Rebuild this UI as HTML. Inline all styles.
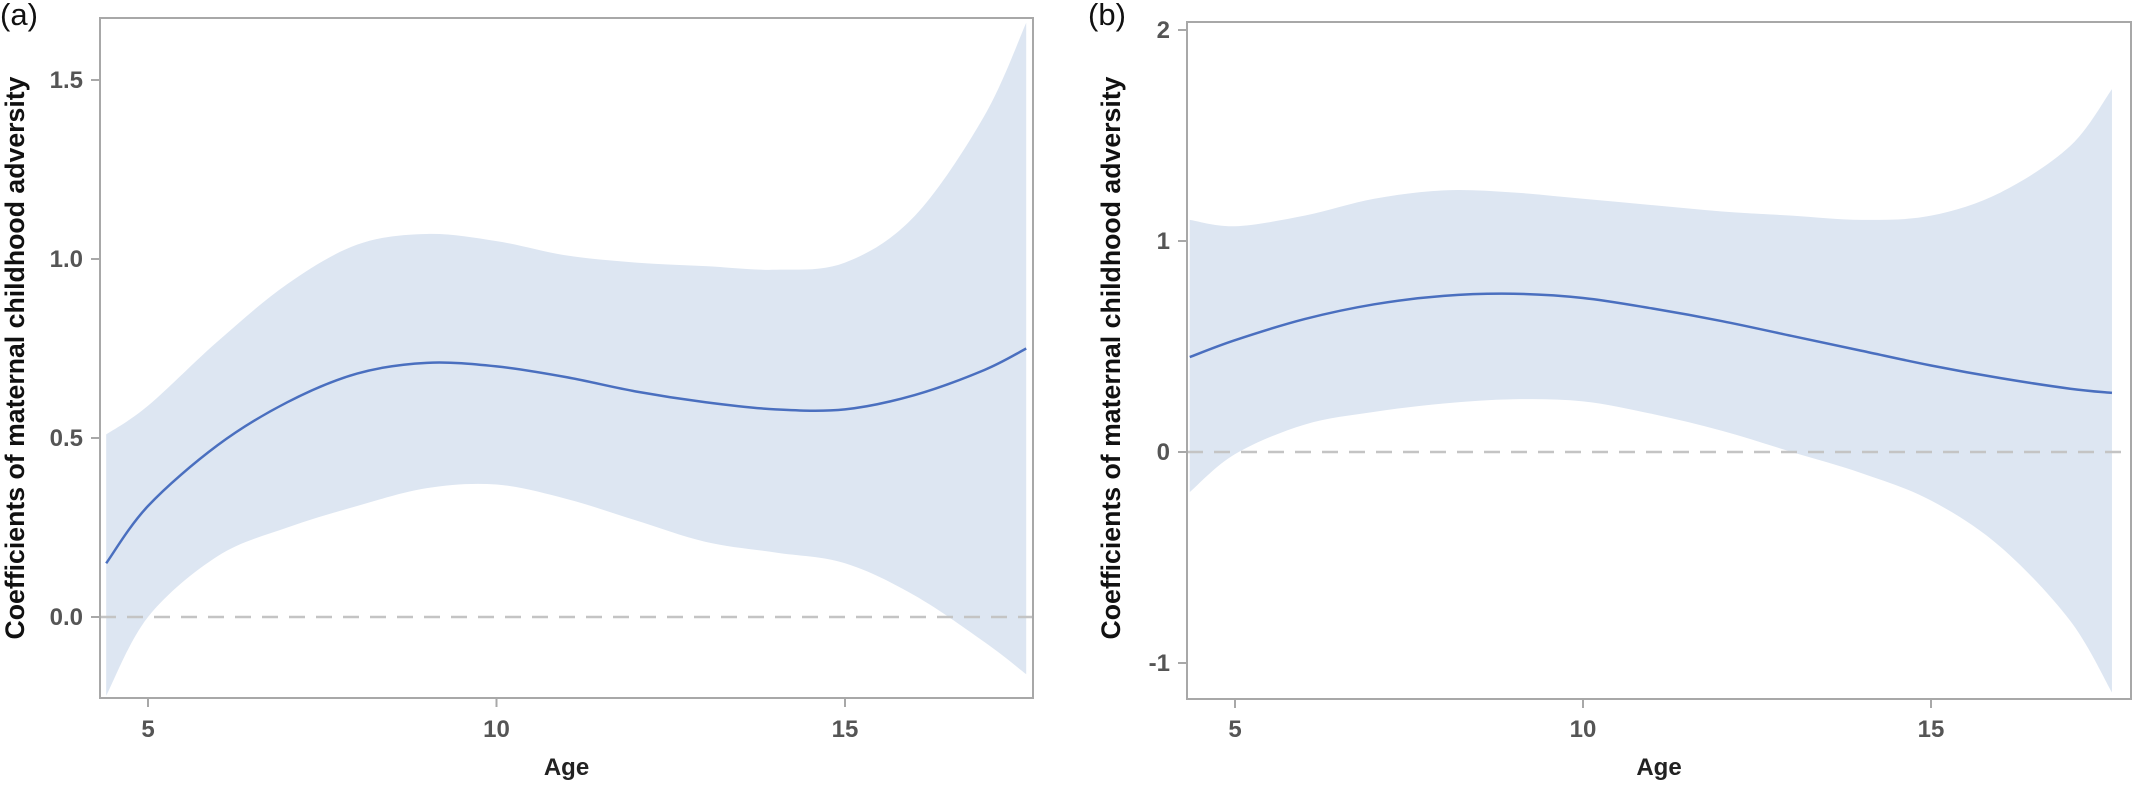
<!DOCTYPE html>
<html><head><meta charset="utf-8"><style>
body{margin:0;background:#fff;}
svg{display:block;font-family:"Liberation Sans",Arial,sans-serif;}
</style></head><body>
<svg id="c" width="2133" height="785"></svg>
<script>
const agesA=[4.4,5,6,7,8,9,10,11,12,13,14,15,16,17,17.6];
const fitA=[0.15,0.31,0.48,0.60,0.68,0.71,0.70,0.67,0.63,0.60,0.58,0.58,0.62,0.69,0.75];
const upA=[0.51,0.59,0.77,0.93,1.04,1.07,1.05,1.01,0.99,0.98,0.97,0.99,1.12,1.40,1.66];
const loA=[-0.22,0.00,0.17,0.25,0.31,0.36,0.37,0.33,0.27,0.21,0.18,0.15,0.06,-0.07,-0.16];
const ticksYA=["0.0","0.5","1.0","1.5"];
const agesB=[4.35,5,6,7,8,9,10,11,12,13,14,15,16,17,17.6];
const fitB=[0.45,0.53,0.63,0.70,0.74,0.75,0.73,0.68,0.62,0.55,0.48,0.41,0.35,0.30,0.28];
const upB=[1.10,1.07,1.12,1.20,1.24,1.23,1.20,1.17,1.14,1.12,1.10,1.12,1.23,1.45,1.72];
const loB=[-0.19,-0.01,0.13,0.19,0.23,0.25,0.24,0.18,0.10,0.00,-0.10,-0.23,-0.45,-0.80,-1.14];
const ticksYB=["-1","0","1","2"];
const ticksX=["5","10","15"];
const NS="http://www.w3.org/2000/svg";
const svg=document.getElementById('c');
function mk(t,a,p){const e=document.createElementNS(NS,t);for(const k in a)e.setAttribute(k,a[k]);(p||svg).appendChild(e);return e;}
function smooth(pts){let d="M"+pts[0][0]+","+pts[0][1];for(let i=0;i<pts.length-1;i++){const p0=pts[Math.max(0,i-1)],p1=pts[i],p2=pts[i+1],p3=pts[Math.min(pts.length-1,i+2)];
const c1=[p1[0]+(p2[0]-p0[0])/6,p1[1]+(p2[1]-p0[1])/6],c2=[p2[0]-(p3[0]-p1[0])/6,p2[1]-(p3[1]-p1[1])/6];
d+=" C"+c1+" "+c2+" "+p2;}return d;}
function panel(cfg){
 const g=mk('g',{});
 
 
 const X=v=>cfg.x5+(v-5)*cfg.xs, Y=v=>cfg.y0-v*cfg.ys;
 const up=cfg.ages.map((a,i)=>[X(a),Y(cfg.up[i])]), lo=cfg.ages.map((a,i)=>[X(a),Y(cfg.lo[i])]).reverse();
 const band=mk('path',{d:smooth(up)+" L"+lo[0]+" "+smooth(lo).slice(1)+" Z",fill:"#dde6f2"},g);
 
 
 const zl=mk('line',{x1:cfg.L,x2:cfg.R,y1:Y(0),y2:Y(0),stroke:"#c4c4c4","stroke-width":2.5,"stroke-dasharray":"16,11"},g);
 
 
 const ln=mk('path',{d:smooth(cfg.ages.map((a,i)=>[X(a),Y(cfg.fit[i])])),fill:"none",stroke:"#4a6fbf","stroke-width":2.5},g);
 
 
 const fr=mk('rect',{x:cfg.L,y:cfg.T,width:cfg.R-cfg.L,height:cfg.B-cfg.T,fill:"none",stroke:"#a8a8a8","stroke-width":2},g);
 
 
 cfg.ticksY.forEach(t=>{const y=Y(parseFloat(t));
  mk('line',{x1:cfg.L-9,x2:cfg.L,y1:y,y2:y,stroke:"#a8a8a8","stroke-width":2},g);
  const tx=mk('text',{x:cfg.L-17,y:y+8,"text-anchor":"end","font-size":24,"font-weight":"bold",fill:"#555"},g);tx.textContent=t;
  
  });
 ticksX.forEach(t=>{const x=X(parseFloat(t));
  mk('line',{x1:x,x2:x,y1:cfg.B,y2:cfg.B+9,stroke:"#a8a8a8","stroke-width":2},g);
  const tx=mk('text',{x:x,y:737,"text-anchor":"middle","font-size":24,"font-weight":"bold",fill:"#555"},g);tx.textContent=t;
  
  });
 const xt=mk('text',{x:(cfg.L+cfg.R)/2,y:775,"text-anchor":"middle","font-size":24,"font-weight":"bold",fill:"#222"},g);xt.textContent="Age";
 
 
 const yt=mk('text',{x:0,y:0,transform:`translate(${cfg.ytx},${cfg.ytc}) rotate(-90)`,"text-anchor":"middle","font-size":27,"font-weight":"bold",fill:"#111",textLength:"563",lengthAdjust:"spacingAndGlyphs"},g);
 yt.textContent="Coefficients of maternal childhood adversity";
 
 
 const lb=mk('text',{x:cfg.lbx,y:25,"font-size":31,fill:"#111"},g);lb.textContent=cfg.label;
 
 
}
panel({name:'panel-a',label:'(a)',lbx:0,ytx:24,ytc:358,L:100,R:1033,T:18,B:698,x5:148,xs:69.7,y0:617,ys:358,ages:agesA,fit:fitA,up:upA,lo:loA,ticksY:ticksYA});
panel({name:'panel-b',label:'(b)',lbx:1088,ytx:1120,ytc:358,L:1187,R:2131,T:22,B:699,x5:1235,xs:69.6,y0:452,ys:211,ages:agesB,fit:fitB,up:upB,lo:loB,ticksY:ticksYB});
</script>
</body></html>
